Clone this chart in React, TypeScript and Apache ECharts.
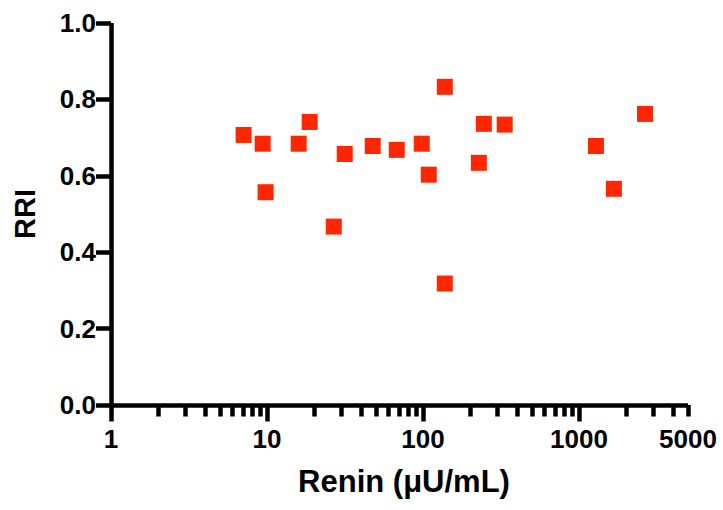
import React, { useEffect, useRef } from 'react';
import * as echarts from 'echarts';

// Data
const reninValues = [7.08, 9.38, 9.8, 15.96, 18.78, 26.8, 31.5, 47.6, 67.9, 98.2, 108.9, 138, 138, 228, 245.5, 334, 1285, 1675, 2650];
const rriValues = [0.707, 0.684, 0.557, 0.684, 0.741, 0.467, 0.657, 0.678, 0.668, 0.684, 0.603, 0.833, 0.318, 0.634, 0.736, 0.734, 0.678, 0.566, 0.762];

// Tick definitions
const xMajorTicks = [1, 10, 100, 1000];
const xLabelValues = [1, 10, 100, 1000, 5000];
const xMinorTicks = [2, 3, 4, 5, 6, 7, 8, 9, 20, 30, 40, 50, 60, 70, 80, 90, 200, 300, 400, 500, 600, 700, 800, 900, 2000, 3000, 4000, 5000];
const xMin = 1;
const xMax = 5000;
const yMin = 0;
const yMax = 1;
const yInterval = 0.2;

const xTitle = 'Renin (μU/mL)';
const yTitle = 'RRI';

const FONT = '"Liberation Sans", Arial, Helvetica, sans-serif';

export default function App() {
  const ref = useRef<HTMLDivElement>(null);

  useEffect(() => {
    if (!ref.current) return;
    const chart = echarts.init(ref.current, undefined, { renderer: 'svg' });
    const points = reninValues.map((x, i) => [x, rriValues[i]]);
    const baseX = {
      type: 'log' as const,
      logBase: 10,
      min: xMin,
      max: xMax,
      position: 'bottom' as const,
      splitLine: { show: false },
      minorTick: { show: false },
      minorSplitLine: { show: false },
    };
    chart.setOption({
      animation: false,
      backgroundColor: '#ffffff',
      grid: { left: 111, right: 35, top: 23, bottom: 105, containLabel: false },
      xAxis: [
        {
          ...baseX,
          name: xTitle,
          nameLocation: 'middle',
          nameGap: 61,
          nameTextStyle: { fontFamily: FONT, fontWeight: 'bold', fontSize: 31, color: '#000', padding: [0, 0, 0, 9] },
          axisLine: { show: true, lineStyle: { color: '#000', width: 4.5, cap: 'butt' } },
          axisTick: { show: true, customValues: xMajorTicks, length: 16.5, lineStyle: { color: '#000', width: 4.5 } },
          axisLabel: {
            show: true,
            customValues: xLabelValues,
            margin: 21,
            fontFamily: FONT,
            fontWeight: 'bold',
            fontSize: 26,
            color: '#000',
            formatter: (v: number) => String(Math.round(v)),
          },
        },
        {
          ...baseX,
          axisLine: { show: false },
          axisTick: { show: true, customValues: xMinorTicks, length: 11.5, lineStyle: { color: '#000', width: 4.5 } },
          axisLabel: { show: false },
        },
      ],
      yAxis: {
        type: 'value',
        min: yMin,
        max: yMax,
        interval: yInterval,
        name: yTitle,
        nameLocation: 'middle',
        nameGap: 72,
        nameTextStyle: { fontFamily: FONT, fontWeight: 'bold', fontSize: 29, color: '#000' },
        splitLine: { show: false },
        axisLine: { show: true, lineStyle: { color: '#000', width: 4.5, cap: 'butt' } },
        axisTick: { show: true, length: 15, lineStyle: { color: '#000', width: 4.5 } },
        axisLabel: {
          margin: 15,
          fontFamily: FONT,
          fontWeight: 'bold',
          fontSize: 26,
          color: '#000',
          formatter: (v: number) => v.toFixed(1),
        },
      },
      series: [
        {
          type: 'scatter',
          xAxisIndex: 0,
          data: points,
          symbol: 'rect',
          symbolSize: 16,
          itemStyle: { color: '#FF2600', opacity: 1 },
          clip: false,
        },
      ],
    });
    return () => chart.dispose();
  }, []);

  return (
    <div
      ref={ref}
      style={{ position: 'fixed', left: 0, top: 0, width: 723, height: 510, background: '#fff' }}
    />
  );
}
